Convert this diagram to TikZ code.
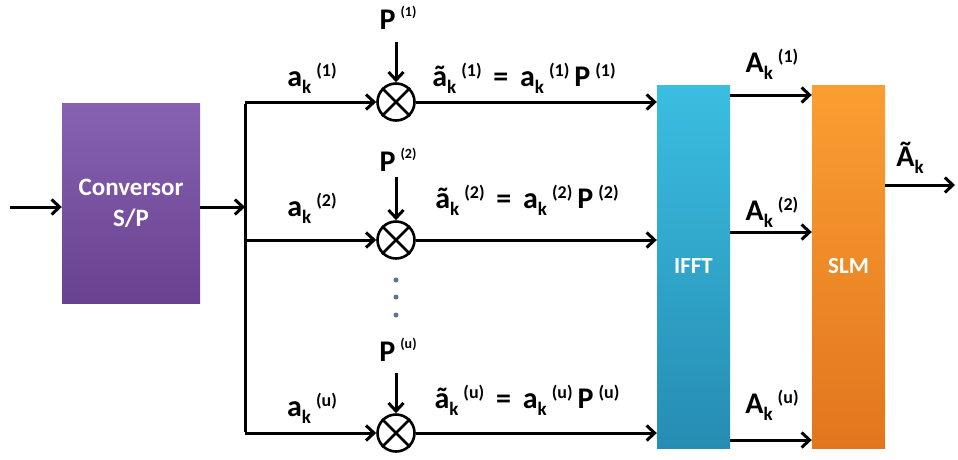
\documentclass[tikz,border=0pt]{standalone}
\usepackage{fontspec}
\setmainfont{Carlito}
\usetikzlibrary{arrows.meta}
\newcommand\sbk[1]{\raisebox{-0.45ex}{\fontsize{19}{19}\selectfont #1}}
\newcommand\spk[1]{\raisebox{0.7ex}{\fontsize{18}{18}\selectfont #1}}
\newcommand\spp[1]{\raisebox{0.9ex}{\fontsize{14}{14}\selectfont #1}}
\begin{document}
\begin{tikzpicture}[x=1pt,y=-1pt]
\tikzset{
  wire/.style={line width=3pt,-{Straight Barb[length=8pt,width=15pt]}},
  plainwire/.style={line width=3pt},
  blk/.style={draw=none,minimum width=73pt,minimum height=363pt,inner sep=0,
    text=white,font=\bfseries\fontsize{23}{28}\selectfont,align=center},
  mult/.style={circle,draw,line width=2.6pt,minimum size=37pt,inner sep=0},
  lab/.style={inner sep=0,font=\bfseries\fontsize{30}{32}\selectfont},
  dotn/.style={circle,fill={rgb,255:red,95;green,115;blue,150},minimum size=5pt,inner sep=0},
}
\useasboundingbox (0,0) rectangle (958,459);
% blocks
\node[blk,minimum width=138pt,minimum height=200pt,font=\bfseries\fontsize{25}{31}\selectfont,
  top color={rgb,255:red,135;green,98;blue,178},bottom color={rgb,255:red,104;green,66;blue,144}] (sp) at (131,203) {Conversor\\S/P};
\node[blk,top color={rgb,255:red,58;green,190;blue,225},bottom color={rgb,255:red,38;green,140;blue,178}] (ifft) at (693.5,266.5) {IFFT};
\node[blk,top color={rgb,255:red,250;green,158;blue,50},bottom color={rgb,255:red,226;green,118;blue,30}] (slm) at (848.5,266.5) {SLM};
% input
\coordinate (in) at (10,207);
\draw[wire] (in) -- (in -| sp.west);
\coordinate (split) at (245,207);
\draw[wire] (in -| sp.east) -- (split);
% multipliers
\node[mult] (m1) at (396,102) {};
\node[mult] (m2) at (396,240) {};
\node[mult] (mu) at (396,433) {};
\foreach \m in {m1,m2,mu}{
  \draw[line width=2.6pt] (\m.45) -- (\m.225) (\m.135) -- (\m.315);
}
\coordinate (t) at (245,102);
\coordinate (b) at (245,433);
\draw[plainwire] ([yshift=-1.5pt]t) -- ([yshift=1.5pt]b);
\draw[wire] (t) -- (m1.west);
\draw[wire] (245,240) -- (m2.west);
\draw[wire] (b) -- (mu.west);
\draw[wire] (m1.east) -- (m1 -| ifft.west);
\draw[wire] (m2.east) -- (m2 -| ifft.west);
\draw[wire] (mu.east) -- (mu -| ifft.west);
% P inputs
\node[lab] (p1) at (398,18) {P\,\spp{(1)}};
\node[lab] (p2) at (398,160) {P\,\spp{(2)}};
\node[lab] (pu) at (398,350) {P\,\spp{(u)}};
\coordinate (p1s) at (396,42);
\coordinate (p2s) at (396,177);
\coordinate (pus) at (396,373);
\draw[wire] (p1s) -- (m1.north);
\draw[wire] (p2s) -- (m2.north);
\draw[wire] (pus) -- (mu.north);
% dots
\node[dotn] (d1) at (396,280) {};
\node[dotn] (d2) at (396,297) {};
\node[dotn] (d3) at (396,315) {};
% a labels
\node[lab] (a1) at (312,78) {a\sbk{k}\,\spk{(1)}};
\node[lab] (a2) at (312,208) {a\sbk{k}\,\spk{(2)}};
\node[lab] (au) at (312,408) {a\sbk{k}\,\spk{(u)}};
\node[lab] (t1) at (524,78) {ã\sbk{k}\,\spk{(1)} \,=\, a\sbk{k}\,\spk{(1)}\,P\,\spk{(1)}};
\node[lab] (t2) at (527,200) {ã\sbk{k}\,\spk{(2)} \,=\, a\sbk{k}\,\spk{(2)}\,P\,\spk{(2)}};
\node[lab] (tu) at (527,400) {ã\sbk{k}\,\spk{(u)} \,=\, a\sbk{k}\,\spk{(u)}\,P\,\spk{(u)}};
% IFFT -> SLM
\draw[wire] (ifft.east |- 0,95) -- (slm.west |- 0,95);
\draw[wire] (ifft.east |- 0,232) -- (slm.west |- 0,232);
\draw[wire] (ifft.east |- 0,440) -- (slm.west |- 0,440);
\node[lab] (A1) at (772,64) {A\sbk{k}\,\spk{(1)}};
\node[lab] (A2) at (772,212) {A\sbk{k}\,\spk{(2)}};
\node[lab] (Au) at (772,405) {A\sbk{k}\,\spk{(u)}};
% output
\coordinate (out) at (955,185);
\draw[wire] (slm.east |- out) -- (out);
\node[lab] (At) at (910,158) {Ã\sbk{k}};
\end{tikzpicture}
\end{document}
